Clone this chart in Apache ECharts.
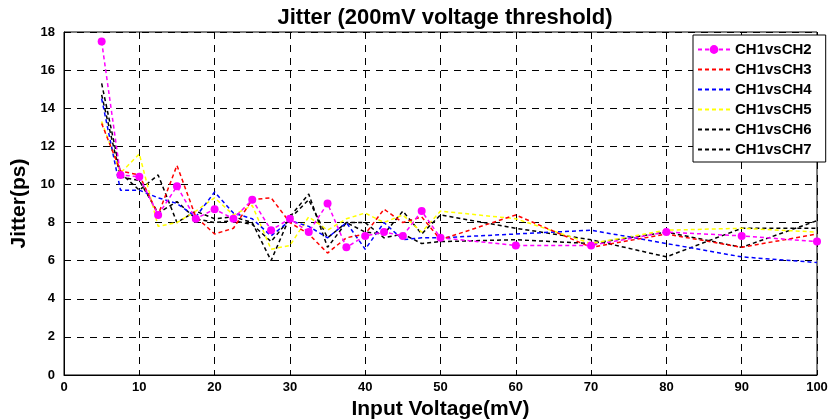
<!DOCTYPE html>
<html>
<head>
<meta charset="utf-8">
<script src="https://cdn.jsdelivr.net/npm/echarts@6/dist/echarts.min.js"></script>
<style>html,body{margin:0;padding:0;background:#fff;}#c{width:837px;height:420px;}</style>
</head>
<body>
<div id="c"></div>
<script>
const xValues = [5,7.5,10,12.5,15,17.5,20,22.5,25,27.5,30,32.5,35,37.5,40,42.5,45,47.5,50,60,70,80,90,100];
const ch2 = [17.5,10.5,10.4,8.4,9.9,8.2,8.7,8.2,9.2,7.6,8.2,7.5,9.0,6.7,7.3,7.5,7.3,8.6,7.2,6.8,6.8,7.5,7.3,7.0];
const ch3 = [13.2,10.7,10.5,8.4,11.0,8.3,7.4,7.7,9.2,9.3,8.0,7.4,6.4,7.2,7.4,8.7,8.0,8.3,7.1,8.4,6.7,7.4,6.7,7.4];
const ch4 = [14.5,9.7,9.7,9.3,9.0,8.3,9.6,8.5,8.2,7.3,8.1,7.8,7.2,8.0,6.6,8.0,7.1,7.2,7.2,7.4,7.6,6.9,6.2,5.9];
const ch5 = [13.3,10.6,11.6,7.8,8.0,8.6,9.3,8.4,8.9,6.6,6.8,8.3,7.6,8.2,8.5,8.0,8.4,7.5,8.6,8.2,6.9,7.6,7.7,7.5];
const ch6 = [15.3,10.6,9.7,10.5,8.0,8.6,8.2,8.3,8.0,6.0,8.3,9.5,6.7,8.0,7.5,7.4,8.6,7.4,8.4,7.7,7.1,6.2,7.7,7.7];
const ch7 = [14.7,10.4,10.2,8.5,9.1,8.2,8.0,8.1,7.9,7.0,8.2,9.2,7.2,8.0,8.0,7.2,7.4,6.9,7.0,7.1,6.9,7.5,6.7,8.1];
const seriesNames = ['CH1vsCH2','CH1vsCH3','CH1vsCH4','CH1vsCH5','CH1vsCH6','CH1vsCH7'];
const seriesData = [ch2,ch3,ch4,ch5,ch6,ch7];
const seriesColors = ['#ff00ff','#ff0000','#0000ff','#ffff00','#000000','#000000'];
const xTicks = [0,10,20,30,40,50,60,70,80,90,100];
const yTicks = [0,2,4,6,8,10,12,14,16,18];

const font = 'Arial, "Liberation Sans", sans-serif';
const chart = echarts.init(document.getElementById('c'), null, {renderer:'canvas'});
const series = seriesNames.map((n,i)=>({
  name:n, type:'line',
  data: xValues.map((x,j)=>[x, seriesData[i][j]]),
  symbol: i===0 ? 'circle' : 'none',
  symbolSize: 8,
  showSymbol: i===0,
  itemStyle:{color:seriesColors[i]},
  lineStyle:{color:seriesColors[i], width:1.5, type:[4,3]},
  animation:false,
  z: 10 - i
}));
chart.setOption({
  animation:false,
  backgroundColor:'#fff',
  title:{text:'Jitter (200mV voltage threshold)', left:440, top:2, textAlign:'center',
    textStyle:{fontFamily:font, fontWeight:'bold', fontSize:22, color:'#000'}},
  grid:{left:64, right:20, top:32, bottom:45, outerBoundsMode:'none', containLabel:false,
    show:true, borderColor:'#000', borderWidth:1, backgroundColor:'transparent'},
  legend:{
    orient:'vertical', left:693, top:35,
    backgroundColor:'#fff', borderColor:'#000', borderWidth:1,
    padding:[7,14,5,4], itemGap:5, itemWidth:32, itemHeight:11,
    textStyle:{fontFamily:font, fontWeight:'bold', fontSize:15, color:'#000'},
    data: seriesNames.map((n,i)=> i===0 ? {name:n} : {name:n, itemStyle:{opacity:0}})
  },
  xAxis:{type:'value', min:0, max:100, interval:10,
    name:'Input Voltage(mV)', nameLocation:'middle', nameGap:24,
    nameTextStyle:{fontFamily:font, fontWeight:'bold', fontSize:21, color:'#000'},
    axisLine:{show:true, lineStyle:{color:'#000'}},
    axisTick:{show:true, inside:true, length:5, lineStyle:{color:'#000'}},
    axisLabel:{fontFamily:font, fontWeight:'bold', fontSize:13, color:'#000', margin:6,
      formatter:v=> xTicks.includes(v) ? String(v) : ''},
    splitLine:{show:true, lineStyle:{color:'#000', type:[7,6], width:1}}
  },
  yAxis:{type:'value', min:0, max:18, interval:2,
    name:'Jitter(ps)', nameLocation:'middle', nameGap:27, nameRotate:90,
    nameTextStyle:{fontFamily:font, fontWeight:'bold', fontSize:21, color:'#000'},
    axisLine:{show:true, lineStyle:{color:'#000'}},
    axisTick:{show:true, inside:true, length:5, lineStyle:{color:'#000'}},
    axisLabel:{fontFamily:font, fontWeight:'bold', fontSize:13, color:'#000', margin:9,
      formatter:v=> yTicks.includes(v) ? String(v) : ''},
    splitLine:{show:true, lineStyle:{color:'#000', type:[7,6], width:1}}
  },
  series: series
});
</script>
</body>
</html>
